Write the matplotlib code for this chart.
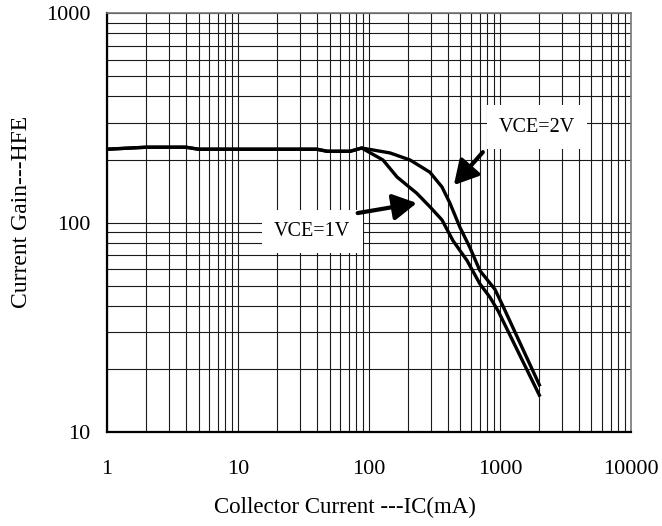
import matplotlib
matplotlib.use("Agg")
import matplotlib.pyplot as plt
from matplotlib.ticker import NullFormatter

# data
ic_2v = [1, 2, 4, 5, 40, 48, 72, 88, 145, 206, 292, 361, 415, 495, 590, 703, 916, 1054, 2000]
hfe_2v = [224, 229, 229, 224, 224, 219, 219, 227, 215, 199, 174, 148, 124, 95, 76, 59, 48, 40, 16.8]

ic_1v = [1, 2, 4, 5, 40, 48, 72, 88, 128, 164, 232, 292, 361, 438, 560, 703, 839, 966, 2000]
hfe_1v = [224, 229, 229, 224, 224, 219, 219, 227, 199, 165, 138, 119, 103, 82, 66, 51, 44, 38, 15]

x_ticks = [1, 10, 100, 1000, 10000]
x_tick_labels = ["1", "10", "100", "1000", "10000"]
y_ticks = [10, 100, 1000]
y_tick_labels = ["10", "100", "1000"]

plt.rcParams['font.family'] = ['Liberation Serif', 'DejaVu Serif']

fig = plt.figure(figsize=(6.62, 5.26), dpi=100)
ax = fig.add_axes([0.1616, 0.1787, 0.953 - 0.1616, 0.975 - 0.1787])
ax.set_xscale('log')
ax.set_yscale('log')
ax.set_xlim(1, 10000)
ax.set_ylim(10, 1000)

# grid: majors and minors all in black
ax.grid(True, which='both', color='#1a1a1a', linewidth=0.8)
ax.set_axisbelow(True)

ax.plot(ic_2v, hfe_2v, color='black', linewidth=2.4, solid_joinstyle='round')
ax.plot(ic_1v, hfe_1v, color='black', linewidth=2.4, solid_joinstyle='round')

ax.set_xticks(x_ticks)
ax.set_xticklabels(x_tick_labels)
ax.set_yticks(y_ticks)
ax.set_yticklabels(y_tick_labels)
ax.xaxis.set_minor_formatter(NullFormatter())
ax.yaxis.set_minor_formatter(NullFormatter())
ax.tick_params(axis='both', which='both', length=0, labelsize=16)
ax.tick_params(axis='x', pad=20)
ax.tick_params(axis='y', pad=12)

for side in ['left', 'bottom']:
    ax.spines[side].set_linewidth(1.6)
for side in ['top', 'right']:
    ax.spines[side].set_linewidth(1.2)
    ax.spines[side].set_color('#777777')

ax.set_xlabel("Collector Current ---IC(mA)", fontsize=16.5)
ax.xaxis.set_label_coords(0.454, -0.155)
ax.set_ylabel("Current Gain---HFE", fontsize=17)
ax.yaxis.set_label_coords(-0.144, 0.525)

# labels with white boxes
box = dict(boxstyle='square,pad=0.6', facecolor='white', edgecolor='none')
ax.text(1915, 286, "VCE=2V", fontsize=14.5, ha='center', va='center', bbox=box, zorder=5)
ax.text(37, 91, "VCE=1V", fontsize=14.5, ha='center', va='center', bbox=box, zorder=5)

arrow = dict(arrowstyle='-|>,head_length=0.9,head_width=0.5', color='black',
             linewidth=3, mutation_scale=16, shrinkA=0, shrinkB=0)
ax.annotate('', xy=(445, 151), xytext=(741, 217), arrowprops=arrow, zorder=6)
ax.annotate('', xy=(232, 124), xytext=(82, 111), arrowprops=arrow, zorder=6)

fig.savefig("out.png", dpi=100)
